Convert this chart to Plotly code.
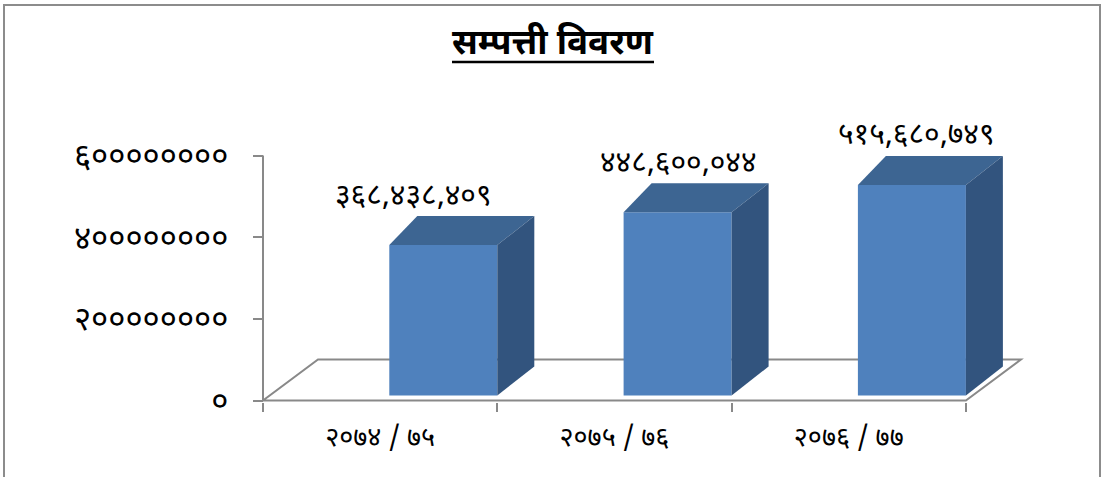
import plotly.graph_objects as go

# ---------------- data ----------------
categories = ["२०७४ / ७५", "२०७५ / ७६", "२०७६ / ७७"]
values = [368438409, 448600044, 515680749]
value_labels = ["३६८,४३८,४०९", "४४८,६००,०४४", "५१५,६८०,७४९"]
y_tickvals = [0, 200000000, 400000000, 600000000]
y_ticktext = ["०", "२००००००००", "४००००००००", "६००००००००"]
title_text = "सम्पत्ती विवरण"

# ---------------- layout geometry (pixels) ----------------
W, H = 1102, 477
PL, PR, PT, PB = 240, 1050, 120, 420   # plot area
PW, PH = PR - PL, PB - PT
SLOT_PX = 234.3          # width of a category slot
X0_PX = 263              # pixel of slot boundary -0.5
Y0_PX = 400.5            # pixel of value 0
VPP = 6e8 / 245          # value units per pixel

def xu(px):
    return px / SLOT_PX

def yu(px):
    return px * VPP

xrange = [-0.5 + (PL - X0_PX) / SLOT_PX, -0.5 + (PR - X0_PX) / SLOT_PX]
yrange = [-(PB - Y0_PX) * VPP, (Y0_PX - PT) * VPP]

FONT = "Noto Sans Devanagari, Mangal, Noto Sans, sans-serif"
FRONT = "#4F81BD"
TOP = "#3D6592"
SIDE = "#32547E"
GRID = "#898989"

BAR_W = xu(108)
BAR_OFF = 0.5 - BAR_W
BASE_LIFT = yu(5)
SDX, TDX, SDY = xu(37), xu(28), yu(29)
FLOOR_DX, FLOOR_DY = xu(55), yu(41)

n = len(categories)
fig = go.Figure()

# front faces
fig.add_trace(go.Bar(
    x=list(range(n)), y=values, base=[BASE_LIFT] * n,
    width=BAR_W, offset=BAR_OFF,
    marker=dict(color=FRONT, line=dict(width=0)),
    hoverinfo="skip", showlegend=False,
))

# top and side faces
for i, v in enumerate(values):
    xl = i + BAR_OFF
    xr = xl + BAR_W
    b = BASE_LIFT
    t = BASE_LIFT + v
    fig.add_trace(go.Scatter(
        x=[xl, xr, xr + SDX, xl + TDX, xl], y=[t, t, t + SDY, t + SDY, t],
        fill="toself", fillcolor=TOP, mode="lines", line=dict(width=0, color=TOP),
        hoverinfo="skip", showlegend=False))
    fig.add_trace(go.Scatter(
        x=[xr, xr, xr + SDX, xr + SDX, xr], y=[b, t, t + SDY, b + SDY, b],
        fill="toself", fillcolor=SIDE, mode="lines", line=dict(width=0, color=SIDE),
        hoverinfo="skip", showlegend=False))

# floor outline and value-axis line
x_left, x_right = -0.5, n - 0.5
floor_path = (f"M {x_left},0 L {x_right},0 L {x_right + FLOOR_DX},{FLOOR_DY} "
              f"L {x_left + FLOOR_DX},{FLOOR_DY} Z")
shapes = [
    dict(type="path", path=floor_path, xref="x", yref="y", layer="below",
         line=dict(color=GRID, width=2)),
    dict(type="line", xref="x", yref="y", x0=x_left, x1=x_left, y0=0, y1=y_tickvals[-1],
         layer="below", line=dict(color=GRID, width=2)),
]

def px_paper_x(px):
    return (px - PL) / PW

def px_paper_y(py):
    return 1 - (py - PT) / PH

# outer chart border
shapes.append(dict(type="rect", xref="paper", yref="paper",
                   x0=px_paper_x(4), x1=px_paper_x(1100),
                   y0=px_paper_y(490), y1=px_paper_y(5),
                   line=dict(color="#8c8c8c", width=2), fillcolor="rgba(0,0,0,0)"))
# title underline
shapes.append(dict(type="line", xref="paper", yref="paper",
                   x0=px_paper_x(452), x1=px_paper_x(654),
                   y0=px_paper_y(62), y1=px_paper_y(62),
                   line=dict(color="black", width=2.5)))

# data labels
LABEL_XSHIFT = [-30, 0, 4]
annotations = []
for i, (v, lab) in enumerate(zip(values, value_labels)):
    annotations.append(dict(
        x=i + BAR_OFF + BAR_W / 2, y=BASE_LIFT + v + SDY, xref="x", yref="y",
        text=lab, showarrow=False, yanchor="middle", xanchor="center",
        yshift=19, xshift=LABEL_XSHIFT[i],
        font=dict(family=FONT, size=30, color="black")))

# title
annotations.append(dict(
    x=px_paper_x(553), y=px_paper_y(45), xref="paper", yref="paper",
    text=f"<b>{title_text}</b>", showarrow=False, xanchor="center", yanchor="middle",
    font=dict(family=FONT, size=35, color="black")))

fig.update_layout(
    width=W, height=H,
    margin=dict(l=PL, r=W - PR, t=PT, b=H - PB, pad=0),
    paper_bgcolor="white", plot_bgcolor="white",
    shapes=shapes, annotations=annotations,
    showlegend=False,
    xaxis=dict(
        range=xrange, anchor="free", position=(PB - 401.5) / PH,
        tickmode="array", tickvals=list(range(n)), ticktext=categories,
        ticks="", showline=False, showgrid=False, zeroline=False,
        ticklabelstandoff=16,
        tickfont=dict(family=FONT, size=27, color="black"),
        minor=dict(ticks="outside", tick0=-0.5, dtick=1, ticklen=9,
                   tickwidth=2, tickcolor=GRID, showgrid=False),
        fixedrange=True,
    ),
    yaxis=dict(
        range=yrange, anchor="free", position=(X0_PX - PL) / PW,
        tickmode="array", tickvals=y_tickvals, ticktext=y_ticktext,
        ticks="outside", ticklen=10, tickwidth=2, tickcolor=GRID,
        showline=False, showgrid=False, zeroline=False,
        ticklabelstandoff=18,
        tickfont=dict(family=FONT, size=33, color="black"),
        fixedrange=True,
    ),
)

fig.write_html(
    "out.html",
    config={"displayModeBar": False},
    post_script="document.body.style.margin='0';document.body.style.overflow='hidden';",
)
